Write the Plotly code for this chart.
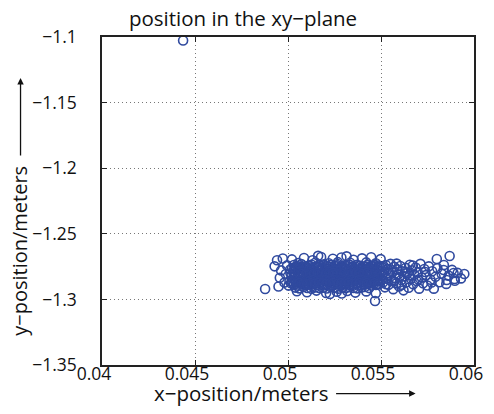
import plotly.graph_objects as go

# dense core of the cluster, written row by row
x_core = [
    0.05031, 0.05048, 0.05072, 0.05089, 0.05113, 0.05127, 0.05151, 0.05168, 0.05192, 0.05209, 0.05228, 0.05252,
    0.05267, 0.05291, 0.05309, 0.05332, 0.05347, 0.05371, 0.05388, 0.05410, 0.05429, 0.05452, 0.05468, 0.05487,
    0.05022, 0.05041, 0.05063, 0.05079, 0.05102, 0.05121, 0.05139, 0.05162, 0.05178, 0.05201, 0.05219, 0.05238,
    0.05262, 0.05279, 0.05298, 0.05321, 0.05339, 0.05358, 0.05381, 0.05399, 0.05418, 0.05441, 0.05459, 0.05478,
    0.05028, 0.05052, 0.05069, 0.05093, 0.05108, 0.05131, 0.05149, 0.05172, 0.05188, 0.05211, 0.05232, 0.05249,
    0.05271, 0.05288, 0.05312, 0.05329, 0.05351, 0.05368, 0.05392, 0.05408, 0.05432, 0.05449, 0.05471, 0.05489,
    0.05019, 0.05038, 0.05061, 0.05082, 0.05098, 0.05119, 0.05142, 0.05158, 0.05181, 0.05198, 0.05222, 0.05241,
    0.05258, 0.05282, 0.05301, 0.05318, 0.05342, 0.05361, 0.05378, 0.05402, 0.05421, 0.05438, 0.05462, 0.05481,
    0.05026, 0.05049, 0.05068, 0.05091, 0.05109, 0.05128, 0.05152, 0.05169, 0.05189, 0.05212, 0.05229, 0.05251,
    0.05269, 0.05292, 0.05308, 0.05331, 0.05348, 0.05372, 0.05389, 0.05411, 0.05428, 0.05451, 0.05469, 0.05486,
    0.05021, 0.05042, 0.05059, 0.05081, 0.05101, 0.05122, 0.05138, 0.05161, 0.05179, 0.05202, 0.05218, 0.05239,
    0.05261, 0.05281, 0.05299, 0.05319, 0.05341, 0.05359, 0.05379, 0.05401, 0.05419, 0.05439, 0.05461, 0.05479,
    0.05032, 0.05051, 0.05071, 0.05092, 0.05111, 0.05129, 0.05151, 0.05171, 0.05191, 0.05209, 0.05231, 0.05251,
    0.05272, 0.05289, 0.05311, 0.05331, 0.05349, 0.05369, 0.05391, 0.05412, 0.05429, 0.05448, 0.05472, 0.05488,
    0.05039, 0.05061, 0.05083, 0.05104, 0.05126, 0.05147, 0.05168, 0.05187, 0.05208, 0.05229,
    0.05248, 0.05271, 0.05292, 0.05309, 0.05331, 0.05352, 0.05373, 0.05394, 0.05413, 0.05436,
]
y_core = [
    -1.2738, -1.2745, -1.2731, -1.2749, -1.2742, -1.2735, -1.2751, -1.2740, -1.2733, -1.2747, -1.2739, -1.2744,
    -1.2730, -1.2752, -1.2741, -1.2736, -1.2748, -1.2737, -1.2743, -1.2750, -1.2734, -1.2746, -1.2739, -1.2742,
    -1.2763, -1.2771, -1.2758, -1.2769, -1.2760, -1.2774, -1.2766, -1.2757, -1.2772, -1.2764, -1.2768, -1.2759,
    -1.2775, -1.2762, -1.2767, -1.2770, -1.2756, -1.2765, -1.2773, -1.2761, -1.2769, -1.2758, -1.2766, -1.2771,
    -1.2788, -1.2796, -1.2782, -1.2793, -1.2785, -1.2799, -1.2790, -1.2781, -1.2797, -1.2787, -1.2794, -1.2783,
    -1.2791, -1.2798, -1.2786, -1.2792, -1.2780, -1.2795, -1.2789, -1.2784, -1.2797, -1.2788, -1.2792, -1.2785,
    -1.2813, -1.2820, -1.2808, -1.2817, -1.2811, -1.2823, -1.2815, -1.2806, -1.2819, -1.2812, -1.2818, -1.2809,
    -1.2822, -1.2814, -1.2807, -1.2816, -1.2821, -1.2810, -1.2818, -1.2813, -1.2806, -1.2819, -1.2815, -1.2811,
    -1.2838, -1.2845, -1.2833, -1.2842, -1.2836, -1.2848, -1.2840, -1.2831, -1.2844, -1.2837, -1.2843, -1.2834,
    -1.2847, -1.2839, -1.2832, -1.2841, -1.2846, -1.2835, -1.2843, -1.2838, -1.2831, -1.2844, -1.2840, -1.2836,
    -1.2863, -1.2870, -1.2858, -1.2867, -1.2861, -1.2873, -1.2865, -1.2856, -1.2869, -1.2862, -1.2868, -1.2859,
    -1.2872, -1.2864, -1.2857, -1.2866, -1.2871, -1.2860, -1.2868, -1.2863, -1.2856, -1.2869, -1.2865, -1.2861,
    -1.2888, -1.2895, -1.2883, -1.2892, -1.2886, -1.2898, -1.2890, -1.2881, -1.2894, -1.2887, -1.2893, -1.2884,
    -1.2897, -1.2889, -1.2882, -1.2891, -1.2896, -1.2885, -1.2893, -1.2888, -1.2881, -1.2894, -1.2890, -1.2886,
    -1.2910, -1.2916, -1.2906, -1.2913, -1.2919, -1.2908, -1.2914, -1.2911, -1.2917, -1.2905,
    -1.2912, -1.2918, -1.2909, -1.2915, -1.2907, -1.2913, -1.2916, -1.2910, -1.2906, -1.2914,
]

# more samples lying between the core rows
x_fill = [
    0.05037, 0.05058, 0.05081, 0.05099, 0.05118, 0.05141, 0.05159, 0.05183, 0.05199, 0.05221, 0.05243, 0.05259,
    0.05283, 0.05302, 0.05318, 0.05341, 0.05362, 0.05379, 0.05397, 0.05421, 0.05438, 0.05459, 0.05481, 0.05494,
    0.05013, 0.05034, 0.05056, 0.05078, 0.05096, 0.05117, 0.05139, 0.05161, 0.05182, 0.05203, 0.05221, 0.05242,
    0.05263, 0.05284, 0.05302, 0.05324, 0.05343, 0.05364, 0.05384, 0.05404, 0.05426, 0.05443, 0.05464, 0.05492,
    0.05036, 0.05057, 0.05077, 0.05097, 0.05119, 0.05138, 0.05158, 0.05179, 0.05201, 0.05222, 0.05241, 0.05262,
    0.05281, 0.05302, 0.05323, 0.05342, 0.05363, 0.05382, 0.05403, 0.05422, 0.05441, 0.05463, 0.05482, 0.05497,
    0.05016, 0.05043, 0.05062, 0.05084, 0.05103, 0.05124, 0.05144, 0.05166, 0.05184, 0.05206, 0.05226, 0.05244,
    0.05266, 0.05286, 0.05304, 0.05326, 0.05346, 0.05366, 0.05386, 0.05406, 0.05424, 0.05446, 0.05466, 0.05484,
]
y_fill = [
    -1.2754, -1.2749, -1.2757, -1.2751, -1.2746, -1.2755, -1.2750, -1.2758, -1.2748, -1.2753, -1.2756, -1.2747,
    -1.2752, -1.2757, -1.2749, -1.2754, -1.2751, -1.2745, -1.2756, -1.2750, -1.2753, -1.2748, -1.2755, -1.2752,
    -1.2801, -1.2806, -1.2799, -1.2804, -1.2808, -1.2800, -1.2805, -1.2797, -1.2803, -1.2807, -1.2802, -1.2798,
    -1.2806, -1.2801, -1.2804, -1.2799, -1.2807, -1.2803, -1.2800, -1.2805, -1.2798, -1.2804, -1.2801, -1.2806,
    -1.2851, -1.2856, -1.2849, -1.2854, -1.2858, -1.2850, -1.2855, -1.2847, -1.2853, -1.2857, -1.2852, -1.2848,
    -1.2856, -1.2851, -1.2854, -1.2849, -1.2857, -1.2853, -1.2850, -1.2855, -1.2848, -1.2854, -1.2851, -1.2856,
    -1.2876, -1.2881, -1.2874, -1.2879, -1.2883, -1.2875, -1.2880, -1.2872, -1.2878, -1.2882, -1.2877, -1.2873,
    -1.2881, -1.2876, -1.2879, -1.2874, -1.2882, -1.2878, -1.2875, -1.2880, -1.2873, -1.2879, -1.2876, -1.2881,
]

# points on the upper, lower and left rim of the cluster
x_edge = [
    0.05021, 0.05086, 0.05132, 0.05178, 0.05241, 0.05287, 0.05352, 0.05398, 0.05447, 0.05498, 0.05162, 0.05315,
    0.05055, 0.05148, 0.05219, 0.05268, 0.05334, 0.05421, 0.05472,
    0.05048, 0.05102, 0.05153, 0.05205, 0.05262, 0.05318, 0.05362, 0.05421, 0.05472, 0.05225, 0.05289, 0.05468,
    0.04877, 0.04928, 0.04941, 0.04956, 0.04963, 0.04972, 0.04981, 0.04988, 0.04995, 0.05003, 0.05008, 0.04949, 0.05012,
]
y_edge = [
    -1.2695, -1.2684, -1.2702, -1.2677, -1.2690, -1.2681, -1.2698, -1.2687, -1.2679, -1.2693, -1.2668, -1.2672,
    -1.2722, -1.2719, -1.2725, -1.2716, -1.2721, -1.2718, -1.2724,
    -1.2938, -1.2946, -1.2933, -1.2951, -1.2941, -1.2936, -1.2948, -1.2939, -1.2953, -1.2958, -1.2955, -1.3012,
    -1.2921, -1.2748, -1.2702, -1.2835, -1.2779, -1.2688, -1.2872, -1.2806, -1.2741, -1.2895, -1.2860, -1.2902, -1.2772,
]

# sparser tail towards larger x
x_tail = [
    0.05503, 0.05508, 0.05512, 0.05517, 0.05521, 0.05526, 0.05531, 0.05536, 0.05541, 0.05545,
    0.05551, 0.05556, 0.05561, 0.05566, 0.05571, 0.05577, 0.05582, 0.05588, 0.05593, 0.05598,
    0.05604, 0.05609, 0.05615, 0.05621, 0.05626, 0.05632, 0.05637, 0.05643, 0.05649, 0.05655,
    0.05661, 0.05667, 0.05673, 0.05679, 0.05686, 0.05692, 0.05698, 0.05705, 0.05712, 0.05719,
    0.05726, 0.05733, 0.05741, 0.05749, 0.05757, 0.05766, 0.05775, 0.05784, 0.05793, 0.05803,
    0.05814, 0.05826, 0.05838, 0.05851, 0.05864, 0.05869, 0.05882, 0.05897, 0.05912, 0.05930,
    0.05948, 0.05890, 0.05800, 0.05837, 0.05853, 0.05895, 0.05514, 0.05528, 0.05539, 0.05553,
    0.05568, 0.05584, 0.05598, 0.05612, 0.05629, 0.05652, 0.05671, 0.05701, 0.05738, 0.05772,
]
y_tail = [
    -1.2752, -1.2815, -1.2870, -1.2792, -1.2908, -1.2738, -1.2841, -1.2768, -1.2889, -1.2817,
    -1.2729, -1.2858, -1.2795, -1.2922, -1.2752, -1.2836, -1.2878, -1.2771, -1.2808, -1.2902,
    -1.2745, -1.2852, -1.2786, -1.2931, -1.2823, -1.2760, -1.2869, -1.2798, -1.2911, -1.2736,
    -1.2842, -1.2779, -1.2885, -1.2812, -1.2757, -1.2860, -1.2795, -1.2918, -1.2729, -1.2833,
    -1.2877, -1.2768, -1.2815, -1.2894, -1.2748, -1.2850, -1.2786, -1.2918, -1.2827, -1.2763,
    -1.2869, -1.2804, -1.2738, -1.2882, -1.2819, -1.2669, -1.2775, -1.2858, -1.2798, -1.2840,
    -1.2806, -1.2799, -1.2692, -1.2776, -1.2852, -1.2845, -1.2746, -1.2884, -1.2802, -1.2772,
    -1.2861, -1.2727, -1.2829, -1.2889, -1.2789, -1.2817, -1.2742, -1.2848, -1.2791, -1.2871,
]

# the single stray sample at the top
x_outlier = [0.04436]
y_outlier = [-1.1027]

x_ticks = [0.04, 0.045, 0.05, 0.055, 0.06]
x_labels = ["0.04", "0.045", "0.05", "0.055", "0.06"]
y_ticks = [-1.35, -1.3, -1.25, -1.2, -1.15, -1.1]
y_labels = ["\u22121.35", "\u22121.3", "\u22121.25", "\u22121.2", "\u22121.15", "\u22121.1"]

xs = x_outlier + x_core + x_fill + x_edge + x_tail
ys = y_outlier + y_core + y_fill + y_edge + y_tail

font = "Open Sans, Lato, sans-serif"
blue = '#304a9f'

fig = go.Figure(go.Scatter(
    x=xs, y=ys, mode="markers",
    marker={'symbol': 'circle-open', 'size': 9, 'color': blue,
            'line': {'width': 1.6, 'color': blue}},
    cliponaxis=False))

axis_style = dict(
    showline=True, linecolor='#222', linewidth=1.5, mirror='ticks',
    ticks='inside', ticklen=5, tickcolor='#222',
    showgrid=True, gridcolor='#777', gridwidth=1, griddash='1px,3px',
    zeroline=False, ticklabeloverflow='allow',
    tickfont={'family': font, 'size': 17.5, 'color': '#111'})

fig.update_xaxes(range=[0.04, 0.06], tickvals=x_ticks, ticktext=x_labels,
                 ticklabelstandoff=-8, ticklabelshift=-8, **axis_style)
fig.update_yaxes(range=[-1.35, -1.1], tickvals=y_ticks, ticktext=y_labels,
                 ticklabelstandoff=20, **axis_style)

# the page body adds an 8px margin, so the figure is 8px smaller than the window
fig.update_layout(
    width=486, height=406,
    margin={'l': 94, 'r': 11, 't': 29, 'b': 49},
    paper_bgcolor='white', plot_bgcolor='white',
    showlegend=False,
    font={'family': font, 'color': '#111'},
    title={'text': "position in the xy\u2212plane", 'x': 235 / 486, 'xanchor': 'center',
           'y': 1 - 11 / 406, 'yanchor': 'middle', 'font': {'size': 20.5, 'family': font}})

# axis titles with the long arrows
fig.add_annotation(xref='paper', yref='paper', x=0.374, y=-0.086, text="x\u2212position/meters",
                   showarrow=False, font={'size': 20.5, 'family': font}, xanchor='center', yanchor='middle')
fig.add_annotation(xref='paper', yref='paper', x=0.843, y=-0.087, text="", showarrow=True,
                   ax=-81, ay=0, arrowhead=2, arrowsize=1, arrowwidth=1.3, arrowcolor='#111')
fig.add_annotation(xref='paper', yref='paper', x=-0.221, y=0.3476, text="y\u2212position/meters",
                   showarrow=False, textangle=-90, font={'size': 20, 'family': font},
                   xanchor='center', yanchor='middle')
fig.add_annotation(xref='paper', yref='paper', x=-0.219, y=0.875, text="", showarrow=True,
                   ax=0, ay=79, arrowhead=2, arrowsize=1, arrowwidth=1.3, arrowcolor='#111')

fig.write_html("out.html")
